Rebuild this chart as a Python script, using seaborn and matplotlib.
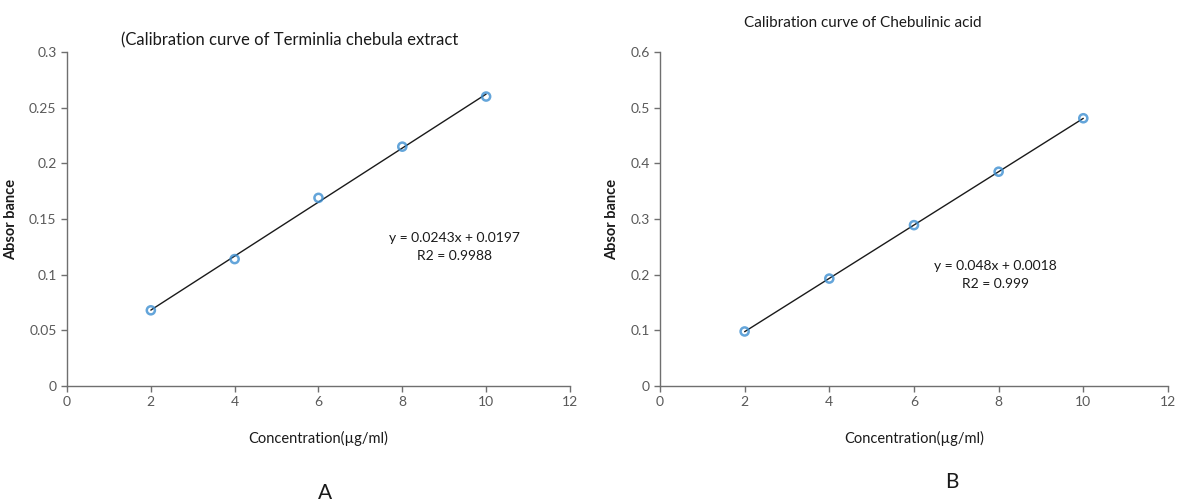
import numpy as np
import matplotlib
matplotlib.use('Agg')
import matplotlib.pyplot as plt
import seaborn as sns

# Calibration data
conc = [2, 4, 6, 8, 10]
abs_extract = [0.068, 0.114, 0.169, 0.215, 0.260]
abs_acid = [0.098, 0.193, 0.289, 0.385, 0.481]

titles = ['(Calibration curve of Terminlia chebula extract', 'Calibration curve of Chebulinic acid']
equations = ['y = 0.0243x + 0.0197\nR2 = 0.9988', 'y = 0.048x + 0.0018\nR2 = 0.999']
panel_letters = ['A', 'B']
y_max = [0.3, 0.6]
y_steps = [0.05, 0.1]

sns.set_style('white')
plt.rcParams['font.family'] = ['Lato', 'DejaVu Sans']

fig = plt.figure(figsize=(11.8, 5.01), dpi=100)
ax_a = fig.add_axes([0.0568, 0.2295, 0.4262, 0.6667])
ax_b = fig.add_axes([0.5593, 0.2295, 0.4305, 0.6667])

eq_pos = [(0.771, 0.416), (0.66, 0.332)]
gray = '#595959'
for i, (ax, vals) in enumerate(zip([ax_a, ax_b], [abs_extract, abs_acid])):
    sns.regplot(x=conc, y=vals, ax=ax, ci=None, truncate=True,
                scatter_kws=dict(s=34, facecolors='none', edgecolors='#3d8fd1', linewidths=1.8, zorder=3),
                line_kws=dict(color='#1a1a1a', lw=1.0, zorder=2))
    ax.set_xlim(0, 12)
    ax.set_ylim(0, y_max[i])
    ax.set_xticks(range(0, 13, 2))
    yt = np.round(np.arange(0, y_max[i] + 1e-9, y_steps[i]), 2)
    ax.set_yticks(yt)
    ax.set_yticklabels(['%g' % t for t in yt])
    sns.despine(ax=ax)
    for s in ['left', 'bottom']:
        ax.spines[s].set_color('#6f6f6f')
        ax.spines[s].set_linewidth(1.0)
    ax.tick_params(axis='both', colors='#6f6f6f', labelcolor=gray, labelsize=10,
                   direction='out', length=4, width=1, left=True, bottom=True)
    ax.set_xlabel('Concentration(\u00b5g/ml)', fontsize=10.5, color='#1a1a1a', labelpad=16)
    ax.set_ylabel('Absor bance', fontsize=10.5, color='#1a1a1a', fontweight='bold', labelpad=8)
    ax.text(eq_pos[i][0], eq_pos[i][1], equations[i],
            transform=ax.transAxes, ha='center', va='center',
            fontsize=10, color='#1a1a1a', linespacing=1.6)

ax_a.text(0.443, 1.01, titles[0], transform=ax_a.transAxes, ha='center', va='bottom',
          fontsize=12, color='#1a1a1a')
ax_b.text(0.40, 1.065, titles[1], transform=ax_b.transAxes, ha='center', va='bottom',
          fontsize=11, color='#1a1a1a')

fig.text(325 / 1180, 1 - 493 / 501, panel_letters[0], ha='center', va='center', fontsize=15, color='#1a1a1a')
fig.text(952 / 1180, 1 - 482 / 501, panel_letters[1], ha='center', va='center', fontsize=15, color='#1a1a1a')

fig.savefig('out.png', dpi=100)
